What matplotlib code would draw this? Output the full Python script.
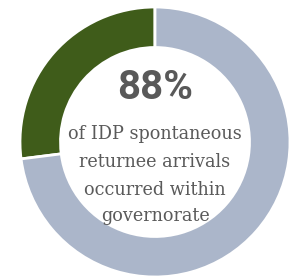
import matplotlib.pyplot as plt

# donut shares as drawn (green wedge first, counterclockwise from top)
labels = ['other', 'within governorate']
values = [27, 73]
colors = ['#3f5c1a', '#abb6ca']

headline = '88%'
caption = ['of IDP spontaneous', 'returnee arrivals', 'occurred within', 'governorate']

fig = plt.figure(figsize=(2.89, 2.78), dpi=100)
ax = fig.add_axes([20 / 289, 1 / 278, 270 / 289, 270 / 278])

ax.pie(values, colors=colors, startangle=90, counterclock=True, radius=1,
       wedgeprops=dict(width=0.3, edgecolor='white', linewidth=2))
ax.set_xlim(-1, 1)
ax.set_ylim(-1, 1)
ax.set_aspect('auto')
ax.axis('off')

ax.text(0, 0.40, headline, ha='center', va='center', fontsize=29,
        fontweight='bold', color='#595959', family='Roboto')

ys = [0.06, -0.15, -0.355, -0.55]
for y, line in zip(ys, caption):
    ax.text(0, y, line, ha='center', va='center', fontsize=12.7,
            color='#5a5a5a', family='DejaVu Serif')

fig.savefig('out.png', dpi=100)
